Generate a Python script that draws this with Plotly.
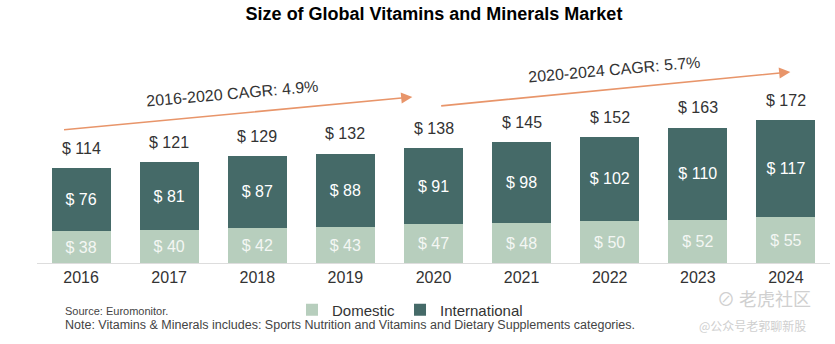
import plotly.graph_objects as go

years = ["2016", "2017", "2018", "2019", "2020", "2021", "2022", "2023", "2024"]
domestic = [38, 40, 42, 43, 47, 48, 50, 52, 55]
international = [76, 81, 87, 88, 91, 98, 102, 110, 117]
totals = [114, 121, 129, 132, 138, 145, 152, 163, 172]

DOM_C = "#b7cebd"
INT_C = "#456a68"
ORANGE = "#e8956a"
FONT = "Liberation Sans, Arial, sans-serif"

fig = go.Figure()
fig.add_trace(go.Bar(
    x=years, y=domestic, name="Domestic", marker_color=DOM_C, marker_line_width=0,
    texttemplate="$ %{y}", textposition="inside", insidetextanchor="middle",
    textfont=dict(color="#f4f7f4", size=16, family=FONT), constraintext="none",
))
fig.add_trace(go.Bar(
    x=years, y=international, name="International", marker_color=INT_C, marker_line_width=0,
    texttemplate="$ %{y}", textposition="inside", insidetextanchor="middle",
    textfont=dict(color="white", size=16, family=FONT), constraintext="none",
))

annotations = []
for i, t in enumerate(totals):
    annotations.append(dict(x=i, y=t, xref="x", yref="y", text=f"$ {t}", showarrow=False,
                            yanchor="bottom", yshift=9,
                            font=dict(size=16, color="#333333", family=FONT)))

# CAGR arrows (data coordinates: category index, value)
arrows = [((-0.21, 160), (3.76, 199.5), "2016-2020 CAGR: 4.9%", (1.72, 204)),
          ((4.07, 188.7), (8.05, 229.6), "2020-2024 CAGR: 5.7%", (6.05, 233))]
for (x0, y0), (x1, y1), label, (tx, ty) in arrows:
    annotations.append(dict(x=x1, y=y1, ax=x0, ay=y0, xref="x", yref="y", axref="x", ayref="y",
                            text="", showarrow=True, arrowhead=2, arrowsize=1.4, arrowwidth=1.6,
                            arrowcolor=ORANGE))
    annotations.append(dict(x=tx, y=ty, xref="x", yref="y", text=label, showarrow=False,
                            textangle=-5, font=dict(size=16, color="#333333", family=FONT)))

annotations += [
    dict(x=63, y=311, xref="paper", yref="paper", text="Source: Euromonitor.", showarrow=False,
         xanchor="left", yanchor="middle", font=dict(size=11, color="#444444", family=FONT)),
    dict(x=63, y=325, xref="paper", yref="paper",
         text="Note: Vitamins & Minerals includes: Sports Nutrition and Vitamins and Dietary Supplements categories.",
         showarrow=False, xanchor="left", yanchor="middle",
         font=dict(size=12.5, color="#444444", family=FONT)),
    dict(x=764, y=298, xref="paper", yref="paper", text="⊘ 老虎社区", showarrow=False,
         xanchor="center", yanchor="middle",
         font=dict(size=18, color="#d0d0d0", family="Noto Sans CJK SC")),
    dict(x=752, y=325, xref="paper", yref="paper", text="@公众号老郭聊新股", showarrow=False,
         xanchor="center", yanchor="middle",
         font=dict(size=12, color="#cfcfcf", family="Noto Sans CJK SC")),
]

# convert pixel-placed paper annotations to paper fractions
W, H = 835, 344
ML, MR, MT, MB = 37, 5, 40, 81
pw, ph = W - ML - MR, H - MT - MB
for a in annotations:
    if a.get("xref") == "paper":
        a["x"] = (a["x"] - ML) / pw
        a["y"] = (H - MB - a["y"]) / ph

fig.update_layout(
    width=W, height=H, barmode="stack", bargap=0.33,
    margin=dict(l=ML, r=MR, t=MT, b=MB),
    paper_bgcolor="white", plot_bgcolor="white",
    title=dict(text="<b>Size of Global Vitamins and Minerals Market</b>", x=434 / W, xanchor="center",
               y=1 - 14 / H, yanchor="middle", font=dict(size=18, color="black", family=FONT)),
    xaxis=dict(type="category", showgrid=False, showline=True, linecolor="#dddddd", linewidth=1, ticks="",
               tickfont=dict(size=16, color="#333333", family=FONT), range=[-0.5, 8.5], fixedrange=True),
    yaxis=dict(visible=False, range=[0, 268]),
    showlegend=True,
    legend=dict(orientation="h", x=(292 - ML) / pw, y=(H - MB - 310) / ph, xanchor="left", yanchor="middle",
                font=dict(size=15, color="#333333", family=FONT), traceorder="normal",
                bgcolor="rgba(0,0,0,0)"),
    annotations=annotations,
)
fig.write_html("out.html")
